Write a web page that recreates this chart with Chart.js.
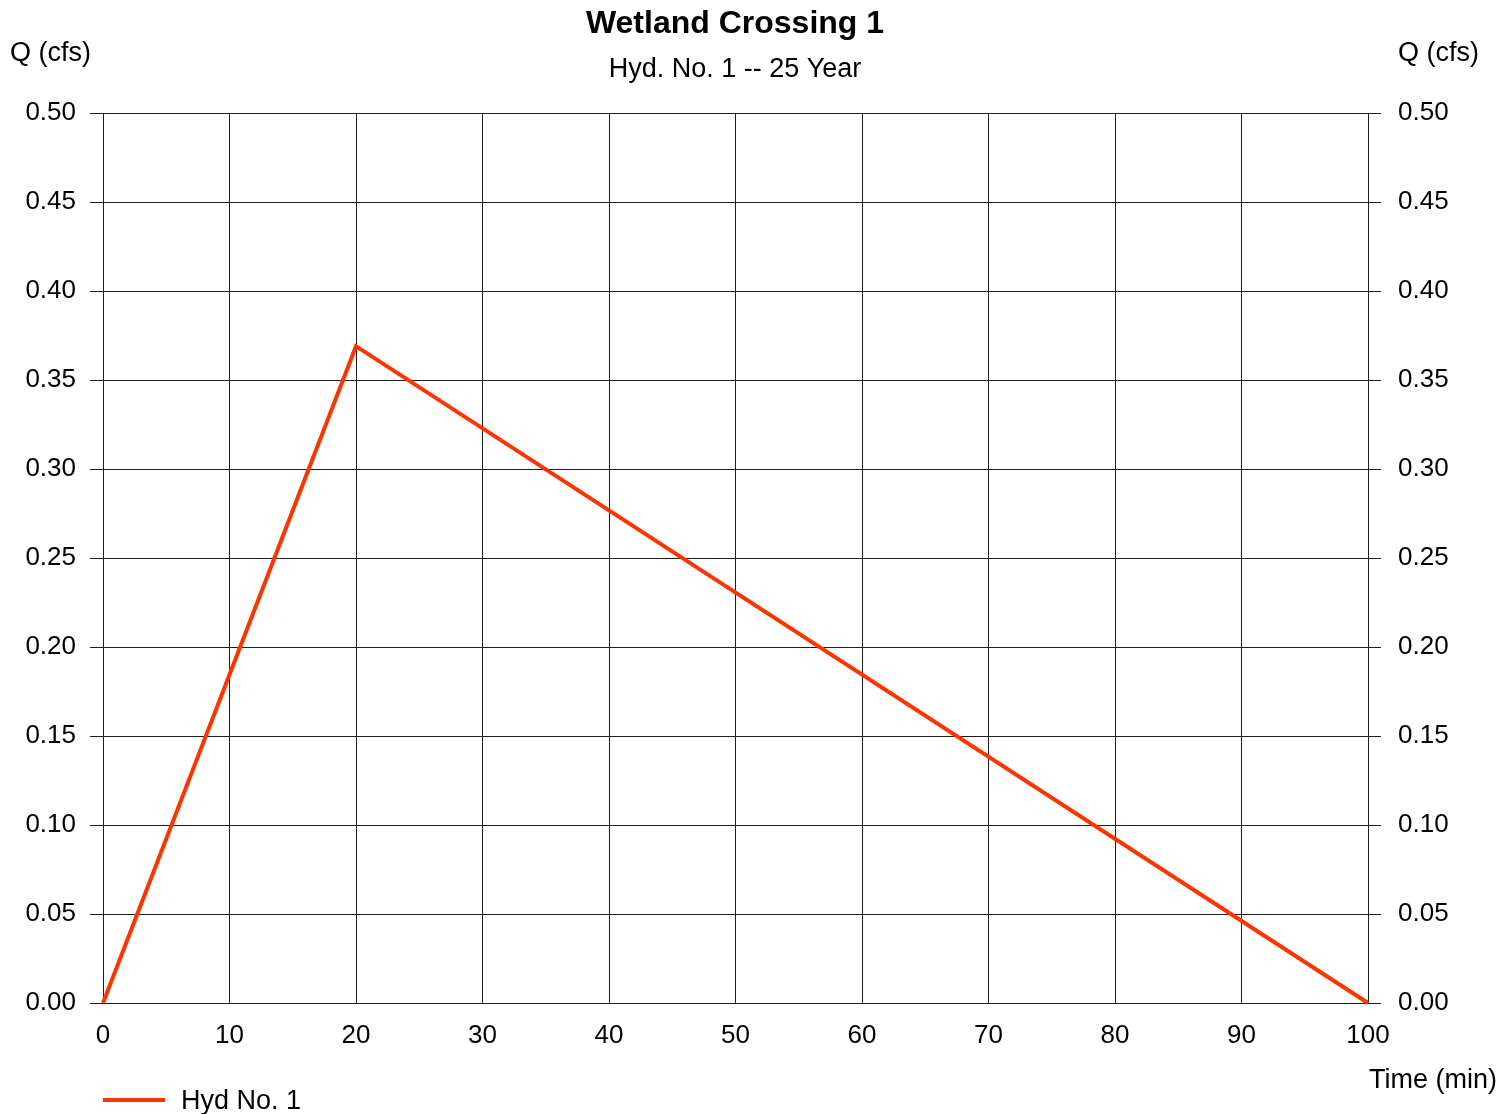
<!DOCTYPE html>
<html>
<head>
<meta charset="utf-8">
<script src="https://cdn.jsdelivr.net/npm/chart.js@4"></script>
<style>
  html, body { margin: 0; padding: 0; background: #ffffff; }
  #wrap { width: 1512px; height: 1114px; position: relative; }
</style>
</head>
<body>
<div id="wrap"><canvas id="c" width="1512" height="1114"></canvas></div>
<script>
// ---- data ----
const titleText = "Wetland Crossing 1";
const subtitleText = "Hyd. No. 1 -- 25 Year";
const yAxisLabel = "Q (cfs)";
const xAxisLabel = "Time (min)";
const seriesName = "Hyd No. 1";
const timeMin = [0, 20, 100];
const flowCfs = [0, 0.369, 0];
const xMin = 0, xMax = 100, xStep = 10;
const yMin = 0, yMax = 0.5, yStep = 0.05;

const lineColor = "rgb(255,51,0)";
const gridColor = "#1e1e1e";
const fontFamily = "'Liberation Sans', Arial, sans-serif";

const points = timeMin.map((t, i) => ({ x: t, y: flowCfs[i] }));

const textPlugin = {
  id: 'textPlugin',
  afterDraw(chart) {
    const ctx = chart.ctx;
    const a = chart.chartArea;
    ctx.save();
    ctx.fillStyle = '#000';
    ctx.textBaseline = 'middle';
    ctx.textAlign = 'center';
    ctx.font = "bold 32px " + fontFamily;
    ctx.fillText(titleText, 735, 24);
    ctx.font = "27px " + fontFamily;
    ctx.fillText(subtitleText, 735, 70);
    ctx.textAlign = 'left';
    ctx.fillText(yAxisLabel, 10, 54);
    ctx.fillText(yAxisLabel, 1398, 54);
    ctx.fillText(xAxisLabel, 1369, 1081);
    // legend
    ctx.strokeStyle = lineColor;
    ctx.lineWidth = 4;
    ctx.beginPath();
    ctx.moveTo(a.left, 1100);
    ctx.lineTo(a.left + 62, 1100);
    ctx.stroke();
    ctx.fillText(seriesName, 181, 1102);
    ctx.restore();
  }
};

new Chart(document.getElementById('c'), {
  type: 'line',
  data: {
    datasets: [{
      label: seriesName,
      data: points,
      borderColor: lineColor,
      backgroundColor: lineColor,
      borderWidth: 4,
      pointRadius: 0,
      tension: 0,
      clip: false,
      yAxisID: 'y'
    }]
  },
  options: {
    responsive: false,
    animation: false,
    devicePixelRatio: 1,
    layout: { padding: { top: 113, left: 0, right: 0, bottom: 0 } },
    plugins: {
      legend: { display: false },
      title: { display: false },
      tooltip: { enabled: false }
    },
    scales: {
      x: {
        type: 'linear',
        min: xMin, max: xMax,
        ticks: {
          stepSize: xStep,
          padding: 17,
          color: '#000',
          font: { family: fontFamily, size: 26 },
          maxRotation: 0,
          callback: v => String(v)
        },
        grid: { color: gridColor, lineWidth: 1, drawTicks: false, tickLength: 0 },
        border: { color: gridColor, width: 1 },
        afterFit(s) { s.height = 111; }
      },
      y: {
        type: 'linear',
        position: 'left',
        min: yMin, max: yMax,
        ticks: {
          stepSize: yStep,
          padding: 14,
          color: '#000',
          font: { family: fontFamily, size: 26 },
          callback: v => Number(v).toFixed(2)
        },
        grid: { color: gridColor, lineWidth: 1, tickLength: 13, tickColor: gridColor },
        border: { color: gridColor, width: 1 },
        afterFit(s) { s.width = 103; }
      },
      y2: {
        type: 'linear',
        position: 'right',
        min: yMin, max: yMax,
        ticks: {
          stepSize: yStep,
          padding: 17,
          color: '#000',
          font: { family: fontFamily, size: 26 },
          callback: v => Number(v).toFixed(2)
        },
        grid: { drawOnChartArea: false, color: gridColor, lineWidth: 1, tickLength: 13, tickColor: gridColor },
        border: { color: gridColor, width: 1 },
        afterFit(s) { s.width = 144; }
      }
    }
  },
  plugins: [textPlugin]
});
</script>
</body>
</html>
